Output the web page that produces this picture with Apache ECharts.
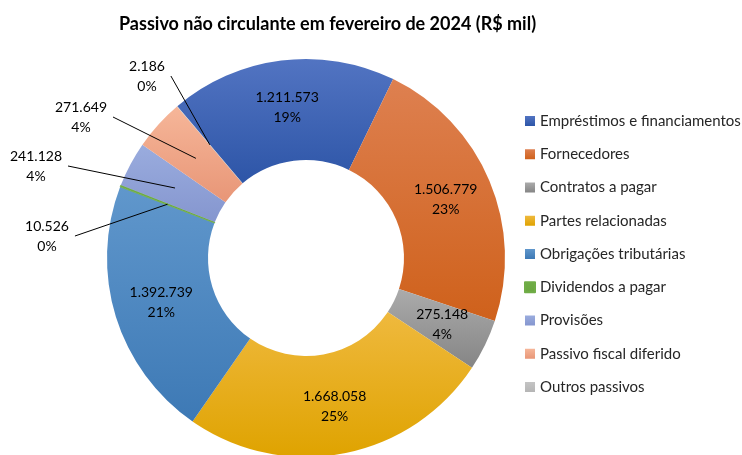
<!DOCTYPE html>
<html>
<head>
<meta charset="utf-8">
<script src="https://cdn.jsdelivr.net/npm/echarts@6/dist/echarts.min.js"></script>
<style>
  html, body { margin: 0; padding: 0; background: #fff; }
  #chart { width: 742px; height: 455px; }
</style>
</head>
<body>
<div id="chart"></div>
<script>
// Passivo não circulante - fevereiro de 2024 (R$ mil)
const categories = [
  'Empréstimos e financiamentos',
  'Fornecedores',
  'Contratos a pagar',
  'Partes relacionadas',
  'Obrigações tributárias',
  'Dividendos a pagar',
  'Provisões',
  'Passivo fiscal diferido',
  'Outros passivos'
];
const values = [1211573, 1506779, 275148, 1668058, 1392739, 10526, 241128, 271649, 2186];

// degradê vertical de cada fatia (topo -> base)
const colorsTop = ['#5274c2', '#de8050', '#ababab', '#efb93e', '#6097cc', '#70ad47', '#9aacde', '#f6b699', '#c4c4c4'];
const colorsBottom = ['#2d55a7', '#cf611b', '#858585', '#dfa300', '#3d79b5', '#6aa63f', '#8596cf', '#e89677', '#b5b5b5'];

// fatias pequenas com rótulo externo + linha de chamada
const outsideLabels = ['Dividendos a pagar', 'Provisões', 'Passivo fiscal diferido', 'Outros passivos'];
const outsideLabelPos = [[47, 236], [36, 166], [81, 117], [147, 76]];

const center = [306, 258];
const radius = [98, 199];
const FONT = 'Lato, "Open Sans", sans-serif';

const fmt = v => String(v).replace(/\B(?=(\d{3})+(?!\d))/g, '.');

const labelStyle = {
  fontFamily: FONT,
  fontSize: 14,
  lineHeight: 20,
  color: '#000',
  align: 'center',
  formatter: p => fmt(p.value) + '\n' + p.percent + '%'
};

const chart = echarts.init(document.getElementById('chart'), null, { renderer: 'canvas' });

// rosca principal: rótulos internos para as fatias grandes
const ringData = categories.map((name, i) => ({
  name,
  value: values[i],
  label: { show: !outsideLabels.includes(name) },
  itemStyle: {
    color: new echarts.graphic.LinearGradient(0, 0, 0, 1, [
      { offset: 0, color: colorsTop[i] },
      { offset: 1, color: colorsBottom[i] }
    ]),
    // a fatia de dividendos é quase só uma linha
    borderWidth: name === 'Dividendos a pagar' ? 0.8 : 0,
    borderColor: colorsTop[i]
  }
}));

// série invisível por cima (raio = meio do anel) só para os rótulos externos,
// assim a linha de chamada fica sobre as fatias e termina no meio do anel
const calloutData = categories.map((name, i) => ({
  name,
  value: values[i],
  label: { show: outsideLabels.includes(name) },
  labelLine: { show: outsideLabels.includes(name) }
}));

const option = {
  animation: false,
  backgroundColor: '#fff',
  title: {
    text: 'Passivo não circulante em fevereiro de 2024 (R$ mil)',
    left: 114,
    top: 10,
    textStyle: { fontFamily: FONT, fontWeight: 'bold', fontSize: 18, color: '#000' }
  },
  legend: {
    orient: 'vertical',
    left: 524,
    top: 113,
    padding: 0,
    icon: 'rect',
    itemWidth: 10,
    itemHeight: 10,
    itemGap: 17.25,
    data: categories,
    textStyle: { fontFamily: FONT, fontSize: 15, color: '#262626', lineHeight: 16 }
  },
  series: [{
    type: 'pie',
    z: 2,
    center,
    radius,
    startAngle: 130.3,
    clockwise: true,
    avoidLabelOverlap: false,
    percentPrecision: 0,
    data: ringData,
    label: Object.assign({ position: 'inside' }, labelStyle),
    labelLine: { show: false }
  }, {
    type: 'pie',
    z: 3,
    silent: true,
    center,
    radius: [0, (radius[0] + radius[1]) / 2],
    startAngle: 130.3,
    clockwise: true,
    avoidLabelOverlap: false,
    percentPrecision: 0,
    data: calloutData,
    itemStyle: { color: 'rgba(0,0,0,0)', borderWidth: 0 },
    emphasis: { disabled: true },
    label: Object.assign({ position: 'outside' }, labelStyle),
    labelLine: { lineStyle: { color: '#000', width: 1 } },
    labelLayout: function (p) {
      const k = outsideLabels.indexOf(categories[p.dataIndex]);
      if (k < 0) return {};
      const pos = outsideLabelPos[k];
      const a = p.labelLinePoints[0];
      const ex = pos[0] + p.labelRect.width / 2 + 6;
      return {
        x: pos[0],
        y: pos[1],
        align: 'center',
        verticalAlign: 'middle',
        labelLinePoints: [[a[0], a[1]], [ex, pos[1]], [ex, pos[1]]]
      };
    }
  }]
};

chart.setOption(option);
</script>
</body>
</html>
